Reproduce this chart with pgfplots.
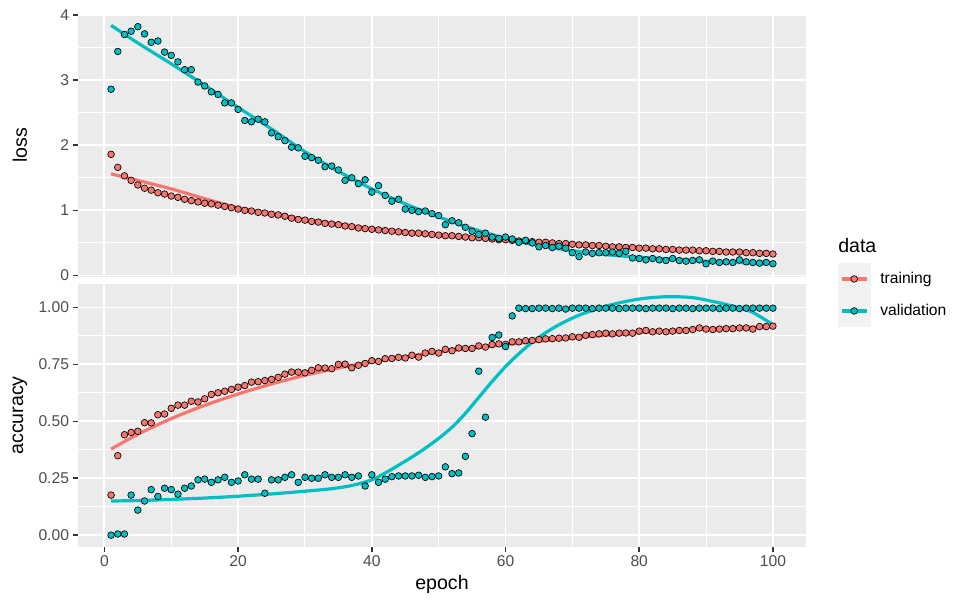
\documentclass[border=0pt]{standalone}
\usepackage{pgfplots}
\pgfplotsset{compat=1.18}
\usepackage{pgfplotstable}
\usepackage{fontspec}
\setmainfont{Liberation Sans}
\definecolor{ctrain}{HTML}{F8766D}
\definecolor{cval}{HTML}{00BFC4}
\definecolor{panelbg}{HTML}{EBEBEB}
\definecolor{keybg}{HTML}{F2F2F2}
\definecolor{tickcol}{HTML}{333333}
\definecolor{ticklab}{HTML}{4D4D4D}

% ---------------- data ----------------
\pgfplotstableread{
ep trl vl tra va
1 1.86 2.86 0.176 0.000
2 1.66 3.44 0.349 0.005
3 1.53 3.70 0.441 0.005
4 1.46 3.75 0.451 0.176
5 1.39 3.82 0.456 0.110
6 1.34 3.71 0.494 0.150
7 1.31 3.58 0.493 0.200
8 1.27 3.60 0.529 0.170
9 1.25 3.43 0.532 0.206
10 1.22 3.38 0.557 0.200
11 1.20 3.28 0.571 0.180
12 1.17 3.16 0.571 0.206
13 1.15 3.16 0.588 0.216
14 1.13 2.97 0.585 0.243
15 1.11 2.91 0.599 0.246
16 1.10 2.82 0.618 0.232
17 1.08 2.78 0.625 0.243
18 1.06 2.65 0.632 0.254
19 1.04 2.65 0.640 0.232
20 1.02 2.55 0.650 0.238
21 1.00 2.38 0.657 0.265
22 0.99 2.36 0.672 0.246
23 0.97 2.40 0.674 0.246
24 0.96 2.36 0.679 0.184
25 0.94 2.19 0.684 0.243
26 0.93 2.13 0.693 0.243
27 0.91 2.07 0.707 0.254
28 0.88 1.97 0.716 0.265
29 0.86 1.96 0.716 0.232
30 0.85 1.83 0.713 0.254
31 0.83 1.81 0.724 0.250
32 0.82 1.77 0.735 0.250
33 0.80 1.67 0.734 0.265
34 0.79 1.68 0.731 0.254
35 0.78 1.62 0.750 0.254
36 0.76 1.46 0.751 0.265
37 0.75 1.50 0.735 0.254
38 0.73 1.41 0.746 0.260
39 0.72 1.47 0.754 0.216
40 0.71 1.28 0.766 0.265
41 0.70 1.38 0.763 0.232
42 0.69 1.23 0.775 0.246
43 0.68 1.14 0.776 0.257
44 0.67 1.17 0.781 0.260
45 0.66 1.02 0.778 0.260
46 0.65 1.00 0.790 0.260
47 0.65 0.98 0.782 0.263
48 0.64 0.99 0.800 0.254
49 0.63 0.95 0.807 0.257
50 0.62 0.92 0.800 0.260
51 0.61 0.78 0.816 0.300
52 0.61 0.84 0.810 0.270
53 0.60 0.81 0.822 0.273
54 0.59 0.74 0.820 0.346
55 0.58 0.68 0.820 0.446
56 0.58 0.63 0.831 0.720
57 0.57 0.65 0.826 0.518
58 0.56 0.59 0.837 0.868
59 0.55 0.57 0.840 0.879
60 0.55 0.59 0.838 0.828
61 0.54 0.56 0.849 0.963
62 0.53 0.51 0.849 0.997
63 0.53 0.54 0.854 0.995
64 0.52 0.50 0.855 0.995
65 0.51 0.44 0.859 0.997
66 0.51 0.46 0.862 0.997
67 0.50 0.43 0.863 0.995
68 0.49 0.45 0.865 0.997
69 0.49 0.42 0.866 0.993
70 0.48 0.35 0.871 0.997
71 0.47 0.29 0.869 0.997
72 0.47 0.36 0.878 0.997
73 0.46 0.34 0.881 0.995
74 0.46 0.35 0.884 0.997
75 0.45 0.35 0.887 0.997
76 0.44 0.36 0.884 0.997
77 0.44 0.34 0.887 0.995
78 0.43 0.37 0.888 0.997
79 0.43 0.27 0.887 0.997
80 0.42 0.26 0.896 0.997
81 0.42 0.24 0.899 0.995
82 0.41 0.26 0.893 0.997
83 0.41 0.24 0.896 0.997
84 0.40 0.23 0.893 0.997
85 0.40 0.26 0.896 0.995
86 0.39 0.23 0.899 0.997
87 0.39 0.22 0.899 0.997
88 0.39 0.23 0.903 0.995
89 0.38 0.24 0.910 0.997
90 0.38 0.18 0.905 0.997
91 0.37 0.22 0.903 0.997
92 0.37 0.20 0.905 0.995
93 0.36 0.21 0.907 0.997
94 0.36 0.20 0.907 0.997
95 0.36 0.24 0.910 0.995
96 0.35 0.21 0.910 0.997
97 0.35 0.20 0.905 0.997
98 0.34 0.19 0.916 0.997
99 0.34 0.20 0.916 0.997
100 0.33 0.18 0.918 0.997
}\datatab

% smooth (loess) curves
\pgfplotstableread{
ep trl vl tra
1 1.56 3.84 0.378
5 1.46 3.57 0.443
10 1.33 3.25 0.512
15 1.18 2.92 0.570
20 1.04 2.58 0.620
25 0.95 2.25 0.664
30 0.86 1.90 0.702
35 0.79 1.60 0.734
40 0.72 1.33 0.761
45 0.67 1.10 0.784
50 0.62 0.90 0.804
55 0.58 0.72 0.821
60 0.54 0.57 0.837
65 0.51 0.46 0.852
70 0.48 0.38 0.866
75 0.45 0.32 0.878
80 0.42 0.28 0.889
85 0.40 0.25 0.898
90 0.38 0.22 0.905
95 0.36 0.20 0.911
100 0.34 0.19 0.916
}\smtab

\pgfplotstableread{
ep va
1 0.150
5 0.152
10 0.157
15 0.163
20 0.171
25 0.181
30 0.193
34 0.204
37 0.218
40 0.243
42 0.273
44 0.307
46 0.343
48 0.382
50 0.425
52 0.474
54 0.535
56 0.605
58 0.675
60 0.740
62 0.797
64 0.847
66 0.889
68 0.924
70 0.953
72 0.977
76 1.013
80 1.037
84 1.047
88 1.043
92 1.020
95 0.998
97 0.978
100 0.925
}\smvatab

\pgfplotsset{
  ggbase/.style={
    scale only axis, width=546pt, height=197.25pt,
    xmin=-3.95, xmax=104.95,
    axis background/.style={fill=panelbg},
    axis x line*=bottom, axis y line*=left,
    axis line style={draw=none},
    grid=both,
    major grid style={white, line width=1.4pt},
    minor grid style={white, line width=0.7pt},
    minor tick length=0pt,
    major tick length=3.67pt,
    tick align=outside,
    tick style={tickcol, line width=1.2pt},
    xtick={0,20,...,100},
    minor xtick={10,30,50,70,90},
    ticklabel style={font=\fontsize{11.73}{14}\selectfont, text=ticklab},
    yticklabel style={inner sep=0pt, xshift=-2.9pt},
    xticklabel style={inner sep=0pt, yshift=-2.9pt},
    /pgf/number format/assume math mode=true,
    every axis y label/.style={at={(axis description cs:-0.0797,0.5)}, rotate=90, anchor=center, font=\fontsize{14.67}{17}\selectfont},
  },
  pts/.style={only marks, mark=*, mark size=2.5pt, forget plot},
  smline/.style={line width=2.4pt, smooth, tension=0.5, forget plot, no markers},
}

\begin{document}
\begin{tikzpicture}
\useasboundingbox (0,0) rectangle (717.75pt,457.5pt);

% ---------- top panel: loss ----------
\begin{axis}[ggbase,
  at={(58.5pt,249.75pt)}, anchor=south west,
  ymin=-0.023, ymax=4.015,
  ytick={0,1,2,3,4},
  minor ytick={0.5,1.5,2.5,3.5},
  xmajorticks=false,
  ylabel={loss},
]
\addplot[pts, mark options={fill=ctrain, draw=black, line width=0.5pt}] table[x=ep, y=trl] {\datatab};
\addplot[pts, mark options={fill=cval, draw=black, line width=0.5pt}] table[x=ep, y=vl] {\datatab};
\addplot[smline, ctrain] table[x=ep, y=trl] {\smtab};
\addplot[smline, cval] table[x=ep, y=vl] {\smtab};
\end{axis}

% ---------- bottom panel: accuracy ----------
\begin{axis}[ggbase,
  at={(58.5pt,47.25pt)}, anchor=south west,
  ymin=-0.052, ymax=1.103,
  ytick={0,0.25,0.5,0.75,1},
  yticklabels={0.00,0.25,0.50,0.75,1.00},
  minor ytick={0.125,0.375,0.625,0.875},
  ylabel={accuracy},
  xlabel={epoch},
  every axis x label/.style={at={(axis description cs:0.5,-0.1635)}, anchor=base, font=\fontsize{14.67}{17}\selectfont},
  legend style={at={(axis description cs:1.044,1.08)}, anchor=north west,
    draw=none, fill=none, inner sep=0pt, outer sep=0pt,
    row sep=0pt, column sep=7.5pt,
    font=\fontsize{11.73}{14}\selectfont,
    nodes={inner sep=0pt, outer sep=0pt, text=black}},
  legend cell align=left,
]
\addlegendimage{legend image code/.code={
  \fill[keybg] (0pt,-11.8pt) rectangle (23.8pt,11.8pt);
  \draw[ctrain, line width=2.4pt] (2.4pt,0pt) -- (21.4pt,0pt);
  \draw[fill=ctrain, draw=black, line width=0.5pt] (11.9pt,0pt) circle (2.5pt);}}
\addlegendentry{training}
\addlegendimage{legend image code/.code={
  \fill[keybg] (0pt,-11.8pt) rectangle (23.8pt,11.8pt);
  \draw[cval, line width=2.4pt] (2.4pt,0pt) -- (21.4pt,0pt);
  \draw[fill=cval, draw=black, line width=0.5pt] (11.9pt,0pt) circle (2.5pt);}}
\addlegendentry{validation}
\addplot[pts, mark options={fill=ctrain, draw=black, line width=0.5pt}] table[x=ep, y=tra] {\datatab};
\addplot[pts, mark options={fill=cval, draw=black, line width=0.5pt}] table[x=ep, y=va] {\datatab};
\addplot[smline, ctrain] table[x=ep, y=tra] {\smtab};
\addplot[smline, cval] table[x=ep, y=va] {\smvatab};
\end{axis}

\node[anchor=base west, inner sep=0pt, font=\fontsize{14.67}{17}\selectfont] at (628.5pt,267.75pt) {data};
\end{tikzpicture}
\end{document}
